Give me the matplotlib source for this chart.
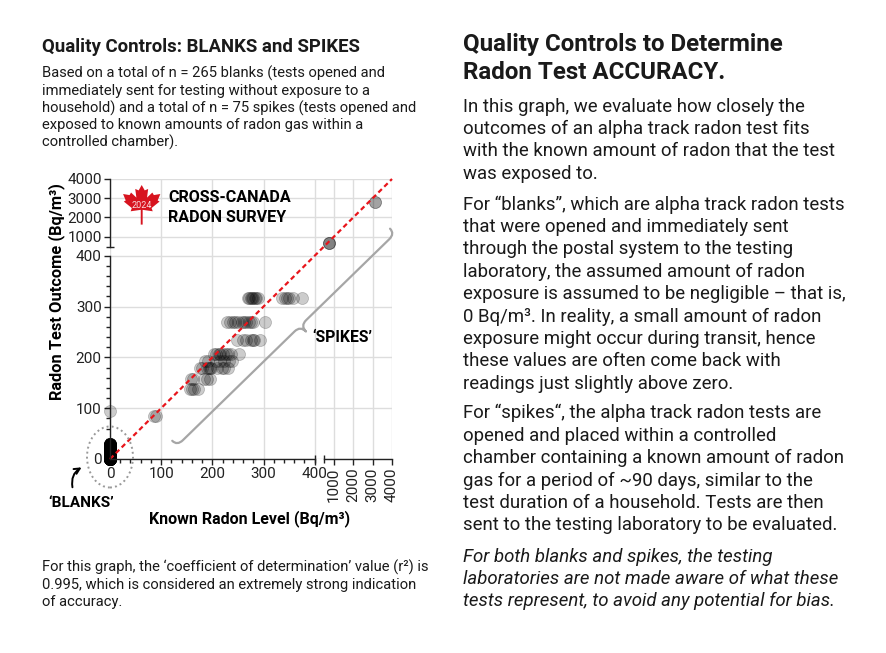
import numpy as np
import matplotlib
matplotlib.use('Agg')
import matplotlib.pyplot as plt
from matplotlib.patches import Ellipse, Polygon, PathPatch
from matplotlib.path import Path

plt.rcParams['font.family'] = ['Roboto', 'DejaVu Sans']

# ---- data ----
blank_levels = [0, 3, 6, 9, 12, 15, 18, 21, 24, 27, 30, 95]
blank_counts = [40, 35, 35, 30, 28, 25, 22, 18, 12, 10, 9, 1]

spike_known = [270, 272, 275, 278, 280, 283, 286, 289, 336, 341, 345, 350, 358, 375,
               228, 235, 240, 244, 250, 258, 262, 266, 272, 276, 279, 303,
               248, 260, 266, 276, 279, 282, 293,
               204, 208, 212, 215, 220, 226, 230, 236, 252,
               186, 192, 208, 215, 222, 232, 238,
               176, 180, 189, 193, 196, 198, 210, 218, 222, 230,
               158, 162, 183, 190, 195,
               157, 161, 165, 172,
               86, 89,
               730, 740, 750,
               3100, 3130]
spike_measured = [317] * 14 + [269] * 12 + [235] * 7 + [207] * 9 + [192] * 7 + \
                 [179] * 10 + [158] * 5 + [137] * 4 + [85] * 2 + \
                 [655, 665, 670] + [2800, 2810]

major_ticks = [0, 100, 200, 300, 400, 1000, 2000, 3000, 4000]
minor_ticks = [v for v in range(20, 400, 20) if v % 100]

W, H = 886, 653


def fx(x):
    return x / W


def fy(y):
    return 1 - y / H


# broken scale: 0-400 linear, then 0-4000 squeezed after a gap
K = 151 / 4000


def fwd(v):
    v = np.asarray(v, float)
    return np.where(v <= 400, v, 400 + v * K)


def inv(t):
    t = np.asarray(t, float)
    return np.where(t <= 400, t, (t - 400) / K)


fig = plt.figure(figsize=(W / 100, H / 100), dpi=100)
ax = fig.add_axes([fx(110), fy(459), 282 / W, 280 / H])
ax.set_xscale('function', functions=(fwd, inv))
ax.set_yscale('function', functions=(fwd, inv))
ax.set_xlim(0, 4000)
ax.set_ylim(0, 4000)

for s in ax.spines.values():
    s.set_visible(False)

ax.set_xticks(major_ticks)
ax.set_xticklabels([str(v) for v in major_ticks])
ax.set_yticks(major_ticks)
ax.set_yticklabels([str(v) for v in major_ticks])
ax.set_xticks(minor_ticks, minor=True)
ax.set_yticks(minor_ticks, minor=True)
ax.tick_params(which='major', direction='out', length=4, width=1, color='#222222',
               labelsize=11, labelcolor='#222222', pad=2)
ax.tick_params(which='minor', direction='out', length=3, width=1, color='#222222')
for tick, val in zip(ax.xaxis.get_major_ticks(), major_ticks):
    if val >= 1000:
        tick.label1.set_rotation(90)

ax.grid(True, which='major', color='#dddddd', lw=1)
ax.set_axisbelow(True)

# axis lines with breaks
kw = dict(color='#222222', lw=1, clip_on=False, zorder=5)
ax.plot([0, 0], [0, 400], **kw)
ax.plot([0, 0], [470, 4000], **kw)
ax.plot([0, 400], [0, 0], **kw)
ax.plot([470, 4000], [0, 0], **kw)
ax.plot([0], [470], marker='_', ms=6, mew=1, color='#222222', clip_on=False, zorder=5)
ax.plot([400, 470], [0, 0], ls='none', marker='|', ms=6, mew=1, color='#222222',
        clip_on=False, zorder=5)

# 1:1 line
ax.plot([0, 400, 400.01, 4000], [0, 400, 400.01, 4000], color='#e8151b', lw=1.6,
        ls=(0, (2.2, 1.5)), zorder=4, clip_on=False)

# points
blank_y = np.repeat(blank_levels, blank_counts)
ax.scatter(np.zeros(len(blank_y)), blank_y, s=75, facecolor=(0, 0, 0, 0.2),
           edgecolor=(0, 0, 0, 0.25), lw=0.5, clip_on=False, zorder=3)
ax.scatter(spike_known, spike_measured, s=75, facecolor=(0, 0, 0, 0.2),
           edgecolor=(0, 0, 0, 0.25), lw=0.5, clip_on=False, zorder=3)

# axis labels
fig.text(fx(57), fy(292), 'Radon Test Outcome (Bq/m³)', rotation=90, ha='center',
         va='center', fontsize=11.8, fontweight='bold')
fig.text(fx(250), fy(519), 'Known Radon Level (Bq/m³)', ha='center', va='center',
         fontsize=11.5, fontweight='bold')

# blanks marker
fig.patches.append(Ellipse((fx(110), fy(457)), 46 / W, 61 / H, transform=fig.transFigure,
                           fill=False, ec='#999999', lw=1.4, ls=(0, (1, 1.6))))
ax.annotate('', xy=(fx(84), fy(466)), xytext=(fx(73), fy(490)), xycoords='figure fraction',
            textcoords='figure fraction',
            arrowprops=dict(arrowstyle='->', color='black', lw=1.4,
                            connectionstyle='arc3,rad=-0.4'), annotation_clip=False)
fig.text(fx(81), fy(503), '‘BLANKS’', ha='center', va='center', fontsize=11,
         fontweight='bold')
fig.text(fx(342), fy(337), '‘SPIKES’', ha='center', va='center', fontsize=11.3,
         fontweight='bold')

# brace along the spikes
P0 = np.array([180.0, 443.0])
e = np.array([206.7, -201.3])
e = e / np.hypot(*e)
n = np.array([e[1], -e[0]])
u0, u1, ut, h, r, t = -4, 300, 168, 7, 8, 8
local = [(u0, h), (u0, 0), (u0 + r, 0), (ut - r, 0), (ut, 0), (ut, -t), (ut, 0), (ut + r, 0),
         (u1 - r, 0), (u1, 0), (u1, h)]
codes = [Path.MOVETO, Path.CURVE3, Path.CURVE3, Path.LINETO, Path.CURVE3, Path.CURVE3,
         Path.CURVE3, Path.CURVE3, Path.LINETO, Path.CURVE3, Path.CURVE3]
verts = []
for u, v in local:
    p = P0 + u * e + v * n
    verts.append((fx(p[0]), fy(p[1])))
fig.patches.append(PathPatch(Path(verts, codes), transform=fig.transFigure, fill=False,
                             ec='#a6a6a6', lw=1.6, capstyle='round', joinstyle='round'))

# logo
leaf_right = [(0, 1.0), (0.16, 0.70), (0.34, 0.78), (0.28, 0.30), (0.56, 0.58), (0.64, 0.44),
              (0.98, 0.50), (0.84, 0.14), (0.94, 0.08), (0.52, -0.28), (0.58, -0.46),
              (0.05, -0.38), (0.05, -1.2)]
leaf = leaf_right + [(-u, v) for u, v in reversed(leaf_right[1:])]
cx, cy = 141.7, 203
fig.patches.append(Polygon([(fx(cx + 19 * u), fy(cy - 18 * v)) for u, v in leaf],
                           closed=True, transform=fig.transFigure, fc='#d7141f', ec='none'))
fig.text(fx(cx), fy(205), '2024', ha='center', va='center', fontsize=6.5, color='white',
         alpha=0.85)
fig.text(fx(168), fy(198), 'CROSS-CANADA', ha='left', va='center', fontsize=11.6,
         fontweight='bold')
fig.text(fx(168), fy(217), 'RADON SURVEY', ha='left', va='center', fontsize=11.6,
         fontweight='bold')

# ---- text blocks ----
ink = '#1a1a1a'


def lines(x, ys, texts, **kw):
    for y, s in zip(ys, texts):
        fig.text(fx(x), fy(y), s, ha='left', va='baseline', color=ink, **kw)


lines(42, [52], ['Quality Controls: BLANKS and SPIKES'], fontsize=13.4, fontweight='bold')
lines(42, [77.5, 94.8, 112.1, 129.4, 146.7],
      ['Based on a total of n = 265 blanks (tests opened and',
       'immediately sent for testing without exposure to a',
       'household) and a total of n = 75 spikes (tests opened and',
       'exposed to known amounts of radon gas within a',
       'controlled chamber).'], fontsize=10.6)
lines(42, [571.5, 588.8, 606.1],
      ['For this graph, the ‘coefficient of determination’ value (r²) is',
       '0.995, which is considered an extremely strong indication',
       'of accuracy.'], fontsize=10.6)

lines(463, [51, 79], ['Quality Controls to Determine', 'Radon Test ACCURACY.'],
      fontsize=17.4, fontweight='bold')
lines(463, [111.5, 133.9, 156.3, 178.7],
      ['In this graph, we evaluate how closely the',
       'outcomes of an alpha track radon test fits',
       'with the known amount of radon that the test',
       'was exposed to.'], fontsize=13.4)
lines(463, [209.5, 231.9, 254.3, 276.7, 299.1, 321.5, 343.9, 366.3, 388.7],
      ['For “blanks”, which are alpha track radon tests',
       'that were opened and immediately sent',
       'through the postal system to the testing',
       'laboratory, the assumed amount of radon',
       'exposure is assumed to be negligible – that is,',
       '0 Bq/m³. In reality, a small amount of radon',
       'exposure might occur during transit, hence',
       'these values are often come back with',
       'readings just slightly above zero.'], fontsize=13.4)
lines(463, [418.5, 440.9, 463.3, 485.7, 508.1, 530.5],
      ['For “spikes“, the alpha track radon tests are',
       'opened and placed within a controlled',
       'chamber containing a known amount of radon',
       'gas for a period of ~90 days, similar to the',
       'test duration of a household. Tests are then',
       'sent to the testing laboratory to be evaluated.'], fontsize=13.4)
lines(463, [561.5, 583.5, 605.5],
      ['For both blanks and spikes, the testing',
       'laboratories are not made aware of what these',
       'tests represent, to avoid any potential for bias.'], fontsize=13.4,
      fontstyle='italic')

fig.savefig('out.png', dpi=100)
